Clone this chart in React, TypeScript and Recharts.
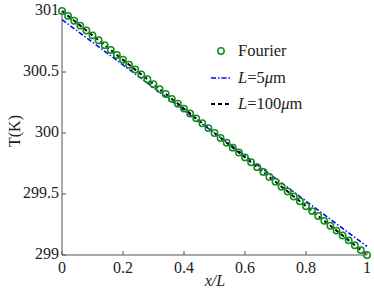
import { ComposedChart, XAxis, YAxis, Scatter, Line, Legend, Label } from "recharts";

const xTicks = [0, 0.2, 0.4, 0.6, 0.8, 1];
const yTicks = [299, 299.5, 300, 300.5, 301];

const fourierX = [
  0, 0.02, 0.04, 0.06, 0.08, 0.1, 0.12, 0.14, 0.16, 0.18, 0.2, 0.22, 0.24, 0.26, 0.28, 0.3, 0.32,
  0.34, 0.36, 0.38, 0.4, 0.42, 0.44, 0.46, 0.48, 0.5, 0.52, 0.54, 0.56, 0.58, 0.6, 0.62, 0.64, 0.66,
  0.68, 0.7, 0.72, 0.74, 0.76, 0.78, 0.8, 0.82, 0.84, 0.86, 0.88, 0.9, 0.92, 0.94, 0.96, 0.98, 1,
];
const fourierT = [
  301, 300.96, 300.92, 300.88, 300.84, 300.8, 300.76, 300.72, 300.68, 300.64, 300.6, 300.56, 300.52,
  300.48, 300.44, 300.4, 300.36, 300.32, 300.28, 300.24, 300.2, 300.16, 300.12, 300.08, 300.04, 300,
  299.96, 299.92, 299.88, 299.84, 299.8, 299.76, 299.72, 299.68, 299.64, 299.6, 299.56, 299.52,
  299.48, 299.44, 299.4, 299.36, 299.32, 299.28, 299.24, 299.2, 299.16, 299.12, 299.08, 299.04, 299,
];

const lineX = [0, 0.25, 0.5, 0.75, 1];
const l5T = [300.93, 300.465, 300.0, 299.535, 299.07];
const l100T = [301, 300.5, 300, 299.5, 299];

const fourierData = fourierX.map((x, i) => ({ x, y: fourierT[i] }));
const l5Data = lineX.map((x, i) => ({ x, y: l5T[i] }));
const l100Data = lineX.map((x, i) => ({ x, y: l100T[i] }));

const FONT = "Liberation Serif, DejaVu Serif, serif";
const AXIS = "#555";
const GREEN = "#10901a";

const BottomTick = ({ x, y, payload }: any) => (
  <g>
    <line x1={x} y1={y} x2={x} y2={y - 4} stroke={AXIS} />
    <text x={x} y={y + 18} textAnchor="middle" fontSize={16} fontFamily={FONT} fill="#222">
      {payload.value}
    </text>
  </g>
);

const TopTick = ({ x, y }: any) => <line x1={x} y1={y} x2={x} y2={y + 4} stroke={AXIS} />;

const LeftTick = ({ x, y, payload }: any) => (
  <g>
    <line x1={x} y1={y} x2={x + 4} y2={y} stroke={AXIS} />
    <text x={x - 3} y={y + 4} textAnchor="end" fontSize={16} fontFamily={FONT} fill="#222">
      {payload.value}
    </text>
  </g>
);

const RightTick = ({ x, y }: any) => <line x1={x} y1={y} x2={x - 4} y2={y} stroke={AXIS} />;

const Ring = ({ cx, cy }: any) => (
  <circle cx={cx} cy={cy} r={3.2} fill="none" stroke={GREEN} strokeWidth={1.5} />
);

const legendRow = { display: "flex", alignItems: "center", height: 26.5 } as const;

const LegendBox = () => (
  <div style={{ fontFamily: FONT, fontSize: 16.5, color: "#222", lineHeight: 1 }}>
    <div style={legendRow}>
      <svg width={24} height={10} style={{ marginRight: 4 }}>
        <circle cx={11} cy={5} r={3.2} fill="none" stroke={GREEN} strokeWidth={1.5} />
      </svg>
      <span>Fourier</span>
    </div>
    <div style={legendRow}>
      <svg width={24} height={10} style={{ marginRight: 4 }}>
        <line x1={1} y1={5} x2={22} y2={5} stroke="#0000ff" strokeWidth={1.5} strokeDasharray="5 2 1.5 2" />
      </svg>
      <span>
        <i>L</i>=5<i>μ</i>m
      </span>
    </div>
    <div style={legendRow}>
      <svg width={24} height={10} style={{ marginRight: 4 }}>
        <line x1={1} y1={5} x2={22} y2={5} stroke="#000" strokeWidth={2} strokeDasharray="4 3" />
      </svg>
      <span>
        <i>L</i>=100<i>μ</i>m
      </span>
    </div>
  </div>
);

export default function App() {
  return (
    <div style={{ position: "absolute", left: 0, top: 0 }}>
      <ComposedChart width={374} height={294} margin={{ top: 11, right: 7, bottom: 14, left: 12 }}>
        <XAxis
          xAxisId={0}
          dataKey="x"
          type="number"
          domain={[0, 1]}
          ticks={xTicks}
          tickSize={0}
          tickMargin={0}
          height={25}
          tick={<BottomTick />}
          axisLine={{ stroke: AXIS }}
          tickLine={false}
          interval={0}
        >
          <Label
            content={() => (
              <text x={215} y={286} textAnchor="middle" fontSize={16} fontFamily={FONT} fontStyle="italic" fill="#222">
                x/L
              </text>
            )}
          />
        </XAxis>
        <XAxis
          xAxisId="top"
          orientation="top"
          dataKey="x"
          type="number"
          domain={[0, 1]}
          ticks={xTicks}
          tickSize={0}
          tickMargin={0}
          height={0}
          tick={<TopTick />}
          axisLine={{ stroke: AXIS }}
          tickLine={false}
          interval={0}
        />
        <YAxis
          yAxisId={0}
          type="number"
          domain={[299, 301]}
          ticks={yTicks}
          tickSize={0}
          tickMargin={0}
          width={50}
          tick={<LeftTick />}
          axisLine={{ stroke: AXIS }}
          tickLine={false}
          interval={0}
        >
          <Label
            content={() => (
              <text
                x={0}
                y={0}
                transform="translate(20,131) rotate(-90)"
                textAnchor="middle"
                fontSize={16}
                fontFamily={FONT}
                fill="#222"
              >
                T(K)
              </text>
            )}
          />
        </YAxis>
        <YAxis
          yAxisId="right"
          orientation="right"
          type="number"
          domain={[299, 301]}
          ticks={yTicks}
          tickSize={0}
          tickMargin={0}
          width={0}
          tick={<RightTick />}
          axisLine={{ stroke: AXIS }}
          tickLine={false}
          interval={0}
        />
        <Legend
          layout="vertical"
          align="center"
          verticalAlign="middle"
          content={<LegendBox />}
          wrapperStyle={{ position: "absolute", top: 38, left: 210, width: 150 }}
        />
        <Scatter data={fourierData} dataKey="y" shape={<Ring />} isAnimationActive={false} />
        <Line
          data={l5Data}
          dataKey="y"
          type="linear"
          stroke="#0000ff"
          strokeWidth={1.5}
          strokeDasharray="5 2 1.5 2"
          dot={false}
          isAnimationActive={false}
        />
        <Line
          data={l100Data}
          dataKey="y"
          type="linear"
          stroke="#000"
          strokeWidth={2}
          strokeDasharray="4 3"
          dot={false}
          isAnimationActive={false}
        />
      </ComposedChart>
    </div>
  );
}
